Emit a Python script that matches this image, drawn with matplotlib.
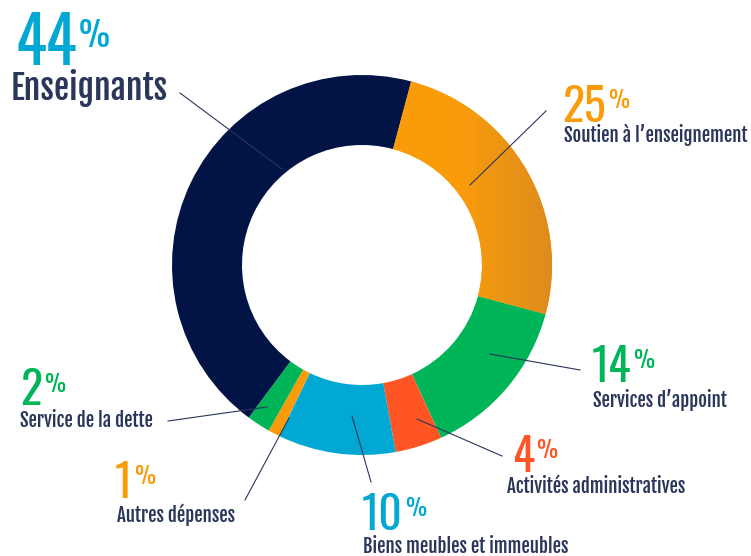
import numpy as np
import matplotlib
matplotlib.use("Agg")
import matplotlib.pyplot as plt
from matplotlib.colors import LinearSegmentedColormap

# data, clockwise from the top
categories = ["Soutien à l’enseignement", "Services d’appoint", "Activités administratives",
              "Biens meubles et immeubles", "Autres dépenses", "Service de la dette", "Enseignants"]
values = [25, 14, 4, 10, 1, 2, 44]
colors = ["#FA9C0A", "#00B458", "#FF5424", "#00A8D3", "#FA9C0A", "#00B458", "#021446"]

W, H = 751, 556
TEXT = "#2A375B"
LABEL_FONT = ["Fjalla One", "Oswald", "DejaVu Sans"]
NUM_FONT = ["Oswald", "Fjalla One", "DejaVu Sans"]

fig = plt.figure(figsize=(W / 100, H / 100), dpi=100)
ax = fig.add_axes([0, 0, 1, 1])

# donut centre / radius in pixels (y measured from the top)
cx, cy, R, ring = 362, 265, 190, 70

wedges, _ = ax.pie(values, colors=colors, startangle=75, counterclock=False,
                   radius=R, center=(cx, H - cy),
                   wedgeprops=dict(width=ring, edgecolor="none", linewidth=0))

# soft gradient on the right side of the orange wedge
cmap = LinearSegmentedColormap.from_list("g", ["#FA9C0A", "#FA9C0A", "#DC8B1E"])
grad = np.linspace(0, 1, 256).reshape(1, -1)
im = ax.imshow(grad, cmap=cmap, extent=(cx, cx + R + 2, H - cy - 60, H - cy + R + 2),
               aspect="auto", zorder=wedges[0].get_zorder() + 0.1)
im.set_clip_path(wedges[0])
ax.set_xlim(0, W)
ax.set_ylim(0, H)
ax.set_aspect("equal")
ax.axis("off")


def px(x, y):
    return x, H - y


# (number, label, number baseline, label baseline, line start, line end, colour, sizes)
labels = [
    ("44", "Enseignants", (15, 65), (11, 100), (180, 93), (282, 169), "#00A8D3", 46, 25, 24.5),
    ("25", "Soutien à l’enseignement", (562, 122), (564, 142), (546, 111), (470, 185), "#FA9C0A", 33, 17, 13.5),
    ("14", "Services d’appoint", (592, 382), (593, 407), (580, 370), (490, 354), "#00B458", 33, 17, 13.5),
    ("4", "Activités administratives", (512, 472), (507, 493), (502, 456), (417, 419), "#FF5424", 33, 17, 13.5),
    ("10", "Biens meubles et immeubles", (362, 530), (363, 553), (371, 482), (352, 416), "#00A8D3", 33, 17, 13.5),
    ("1", "Autres dépenses", (115, 498), (117, 522), (245, 500), (289, 418), "#FA9C0A", 33, 17, 13.5),
    ("2", "Service de la dette", (20, 405), (20, 427), (168, 421), (267, 407), "#00B458", 33, 17, 13.5),
]

for num, name, npos, lpos, l0, l1, col, nsz, psz, lsz in labels:
    t = ax.text(*px(*npos), num, color=col, fontsize=nsz, family=NUM_FONT,
                ha="left", va="baseline")
    ax.annotate("%", xy=(1.0, 0.9), xycoords=t, xytext=(1.5, 0), textcoords="offset points",
                color=col, fontsize=psz, family=NUM_FONT, ha="left", va="top")
    ax.text(*px(*lpos), name, color=TEXT, fontsize=lsz, family=LABEL_FONT,
            ha="left", va="baseline")
    ax.plot([l0[0], l1[0]], [H - l0[1], H - l1[1]], color=TEXT, lw=0.8, zorder=5)

# cut-off title fragment at the very top
ax.text(*px(271, -7), "p", color=TEXT, fontsize=22, family=LABEL_FONT,
        ha="left", va="baseline", clip_on=False)

fig.savefig("out.png", dpi=100, facecolor="white")
